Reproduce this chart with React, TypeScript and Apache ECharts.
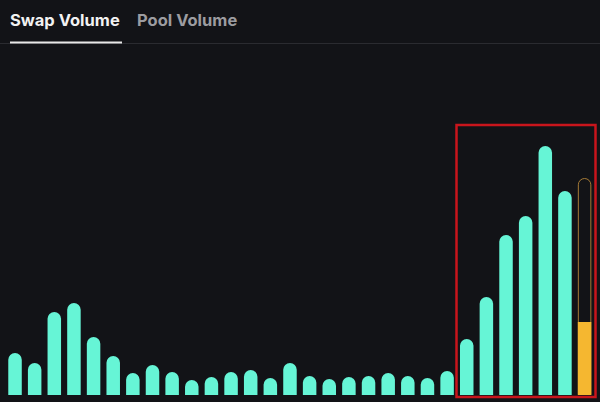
import React, { useEffect, useRef } from "react";
import * as echarts from "echarts";

const categories: string[] = Array.from({ length: 30 }, (_, i) => `D${i + 1}`);
const swapVolume: (number | null)[] = [
  42, 32, 83, 92, 58, 39, 22, 30, 23, 15,
  18, 23, 25, 17, 32, 19, 16, 18, 19, 22,
  19, 17, 24, 56, 98, 160, 179, 249, 204, null,
];
const currentIndex = 29;
const currentTotal = 217;
const currentSoFar = 73;
const tabLabels: string[] = ["Swap Volume", "Pool Volume"];

export default function App() {
  const ref = useRef<HTMLDivElement>(null);
  useEffect(() => {
    if (!ref.current) return;
    const chart = echarts.init(ref.current, null, { renderer: "svg" });
    const outlineData = categories.map((_, i) => (i === currentIndex ? currentTotal : null));
    const fillData = categories.map((_, i) => (i === currentIndex ? currentSoFar : null));
    chart.setOption({
      animation: false,
      backgroundColor: "#121317",
      grid: { left: 5.2, right: 5.6, top: 135, bottom: 7 },
      xAxis: {
        type: "category",
        data: categories,
        axisLine: { show: false },
        axisTick: { show: false },
        axisLabel: { show: false },
      },
      yAxis: {
        type: "value",
        min: 0,
        max: 260,
        show: false,
        splitLine: { show: false },
      },
      series: [
        {
          type: "bar",
          data: swapVolume,
          barWidth: 13.5,
          itemStyle: { color: "#66f5d6", borderRadius: [7, 7, 0, 0] },
        },
        {
          type: "bar",
          data: outlineData,
          barWidth: 13.5,
          barGap: "-100%",
          z: 3,
          itemStyle: {
            color: "rgba(0,0,0,0)",
            borderColor: "#a47a36",
            borderWidth: 1,
            borderRadius: [7, 7, 0, 0],
          },
        },
        {
          type: "bar",
          data: fillData,
          barWidth: 13.5,
          barGap: "-100%",
          z: 4,
          itemStyle: { color: "#f5b730" },
        },
      ],
      graphic: [
        {
          type: "text",
          left: 10,
          top: 11,
          style: {
            text: tabLabels[0],
            fill: "#f2f2f2",
            font: "700 16.5px Inter, 'Noto Sans', sans-serif",
          },
        },
        {
          type: "text",
          left: 137,
          top: 11,
          style: {
            text: tabLabels[1],
            fill: "#9c9ca0",
            font: "700 16.5px Inter, 'Noto Sans', sans-serif",
          },
        },
        {
          type: "rect",
          shape: { x: 0, y: 43, width: 600, height: 1 },
          style: { fill: "#2a2b30" },
        },
        {
          type: "rect",
          shape: { x: 10, y: 41.5, width: 112, height: 2 },
          style: { fill: "#e8e8e8" },
        },
        {
          type: "rect",
          z: 10,
          shape: { x: 456.5, y: 125, width: 139, height: 272 },
          style: { fill: "none", stroke: "#c8151c", lineWidth: 2.5 },
        },
      ],
    });
    return () => chart.dispose();
  }, []);
  return (
    <div
      ref={ref}
      style={{ position: "fixed", left: 0, top: 0, width: 600, height: 402 }}
    />
  );
}
